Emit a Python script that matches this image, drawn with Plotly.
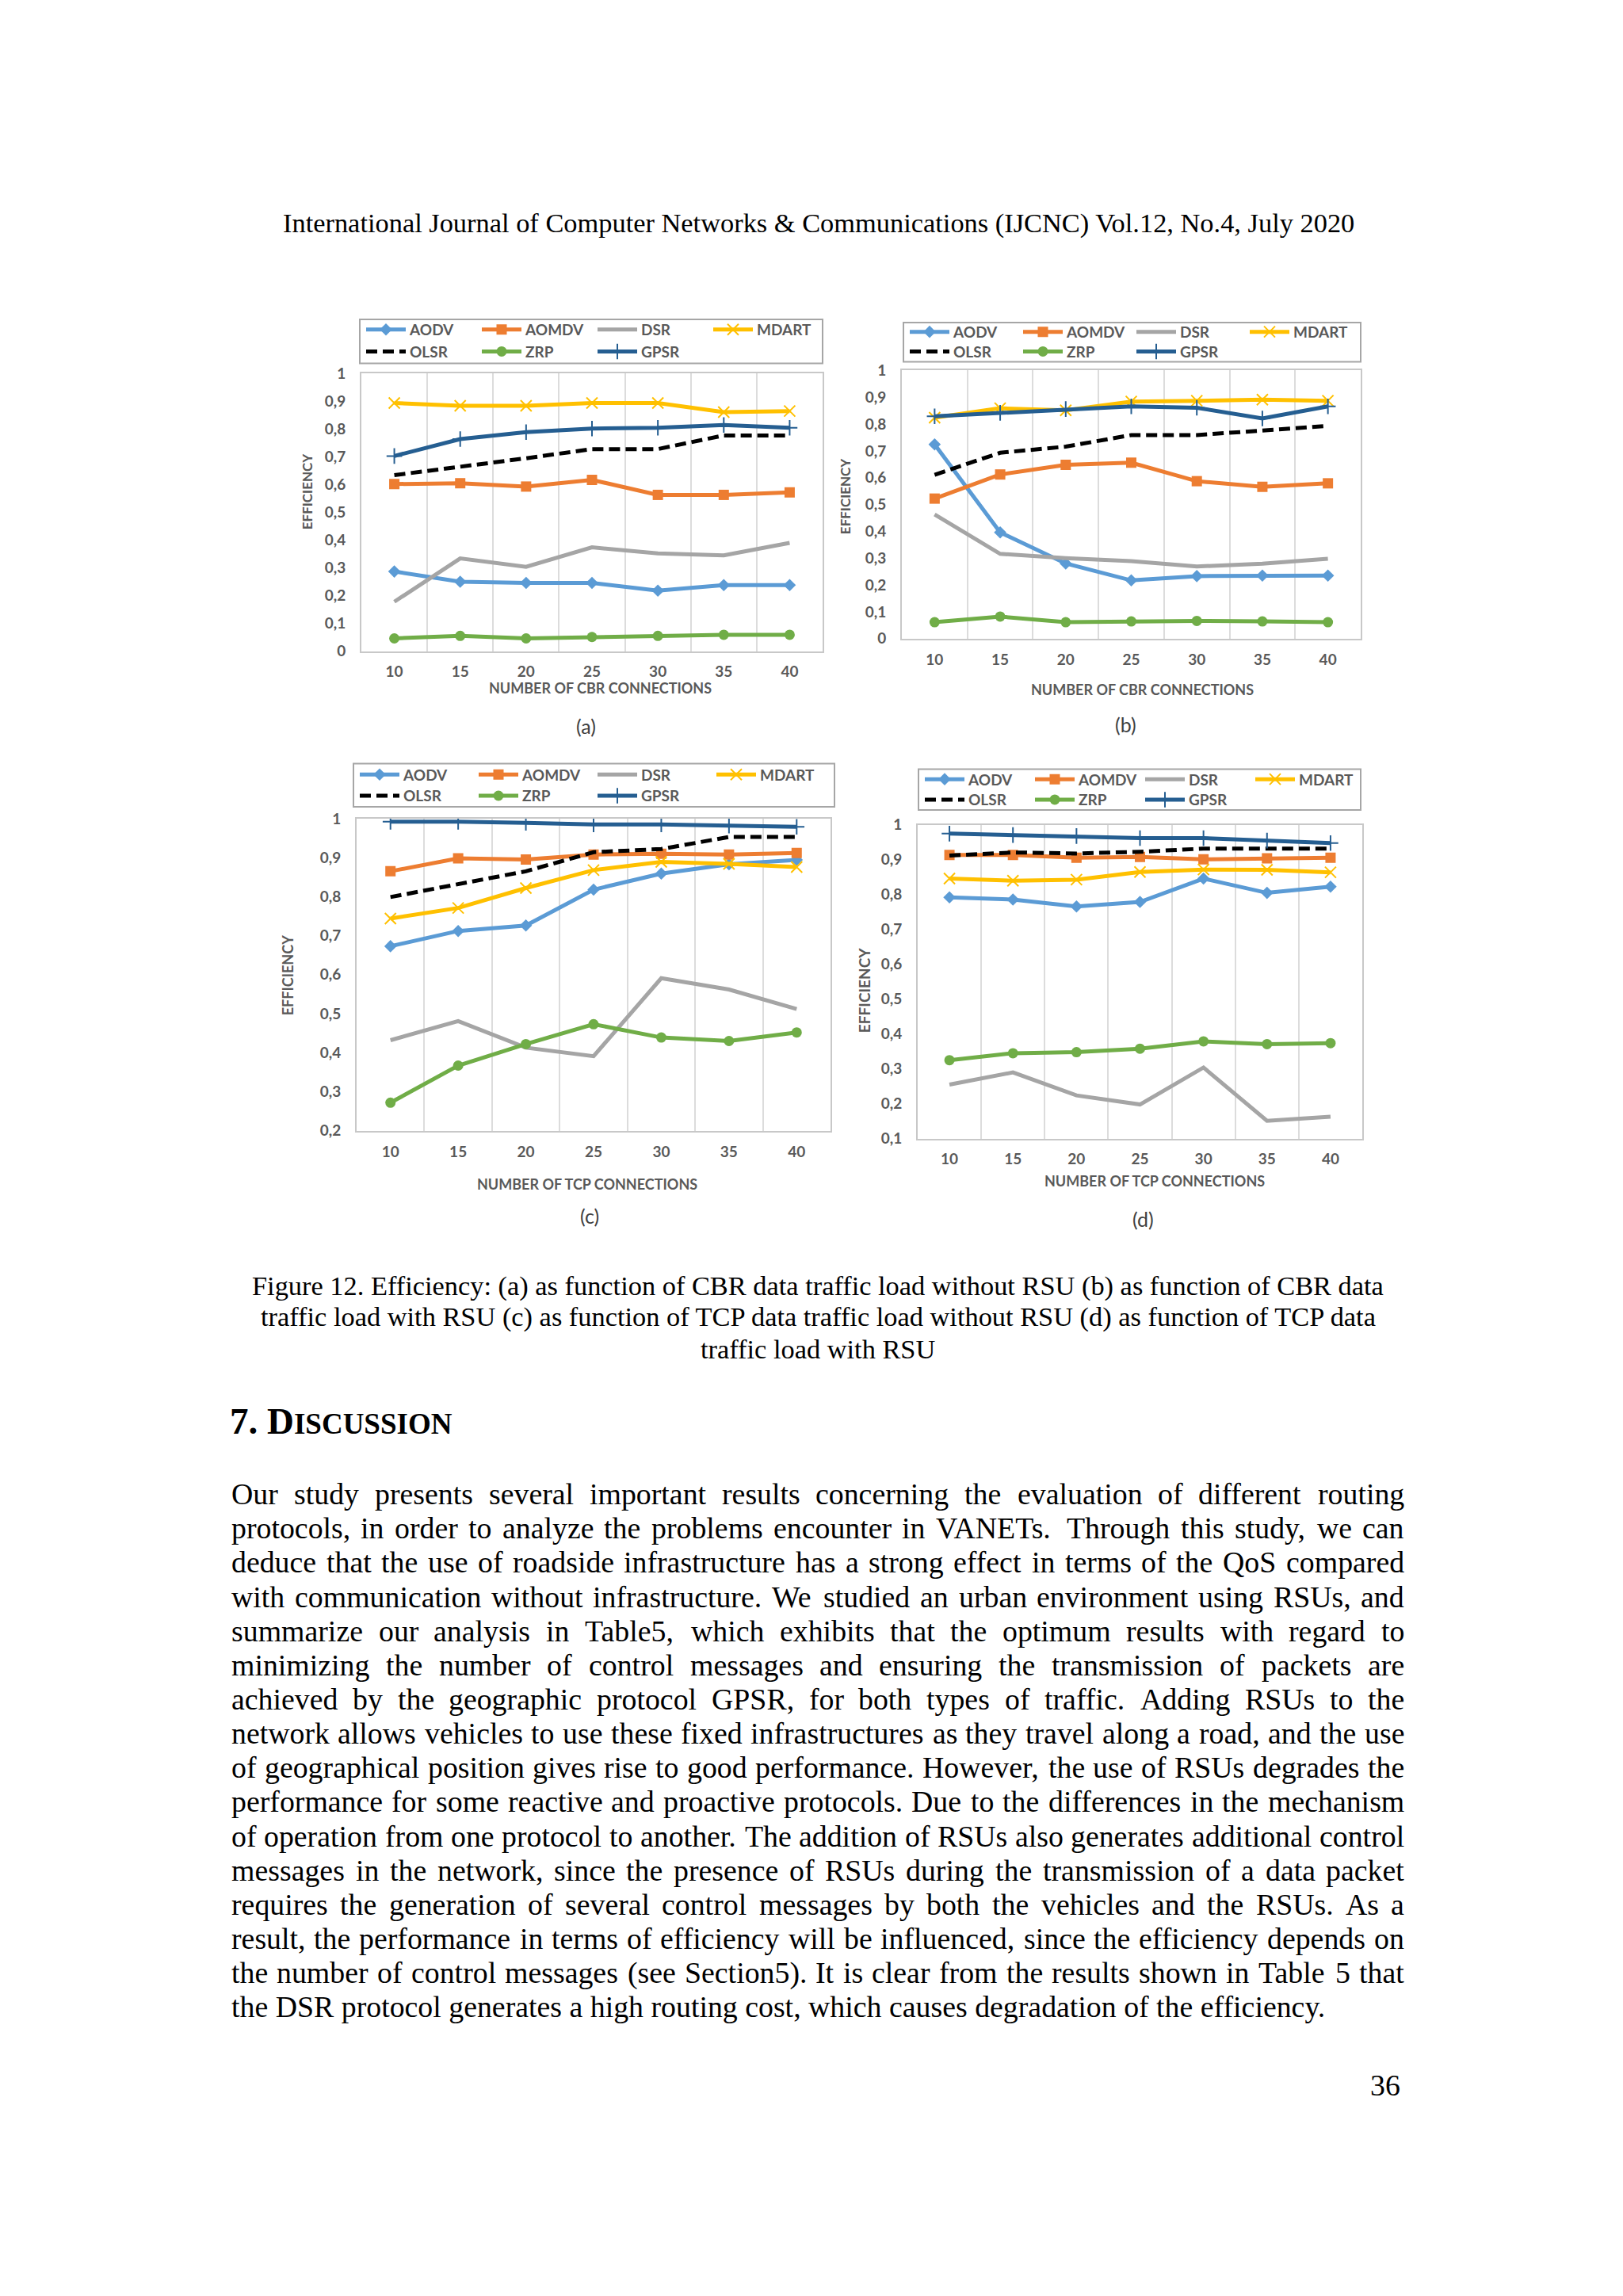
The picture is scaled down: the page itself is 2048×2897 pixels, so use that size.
import plotly.graph_objects as go

W, H = 2048, 2897

# ---------------- data ----------------
connections = [10, 15, 20, 25, 30, 35, 40]
protocols = ["AODV", "AOMDV", "DSR", "MDART", "OLSR", "ZRP", "GPSR"]

# (a) CBR, without RSU
cbr_no_rsu_aodv = [0.287, 0.250, 0.246, 0.246, 0.218, 0.238, 0.238]
cbr_no_rsu_aomdv = [0.602, 0.605, 0.593, 0.617, 0.563, 0.563, 0.572]
cbr_no_rsu_dsr = [0.178, 0.334, 0.304, 0.374, 0.352, 0.345, 0.390]
cbr_no_rsu_mdart = [0.894, 0.884, 0.884, 0.894, 0.894, 0.861, 0.865]
cbr_no_rsu_olsr = [0.634, 0.664, 0.695, 0.728, 0.728, 0.777, 0.777]
cbr_no_rsu_zrp = [0.046, 0.055, 0.046, 0.051, 0.055, 0.059, 0.059]
cbr_no_rsu_gpsr = [0.703, 0.764, 0.789, 0.802, 0.805, 0.815, 0.805]

# (b) CBR, with RSU
cbr_rsu_aodv = [0.724, 0.396, 0.280, 0.217, 0.233, 0.235, 0.235]
cbr_rsu_aomdv = [0.522, 0.612, 0.648, 0.656, 0.587, 0.566, 0.579]
cbr_rsu_dsr = [0.463, 0.316, 0.300, 0.289, 0.269, 0.279, 0.298]
cbr_rsu_mdart = [0.824, 0.859, 0.851, 0.884, 0.887, 0.891, 0.887]
cbr_rsu_olsr = [0.611, 0.693, 0.716, 0.759, 0.759, 0.777, 0.793]
cbr_rsu_zrp = [0.061, 0.082, 0.061, 0.064, 0.066, 0.064, 0.061]
cbr_rsu_gpsr = [0.829, 0.842, 0.856, 0.866, 0.861, 0.821, 0.866]

# (c) TCP, without RSU
tcp_no_rsu_aodv = [0.673, 0.712, 0.726, 0.818, 0.859, 0.883, 0.894]
tcp_no_rsu_aomdv = [0.865, 0.898, 0.895, 0.908, 0.910, 0.908, 0.912]
tcp_no_rsu_dsr = [0.432, 0.481, 0.413, 0.391, 0.591, 0.562, 0.512]
tcp_no_rsu_mdart = [0.744, 0.771, 0.822, 0.868, 0.889, 0.884, 0.876]
tcp_no_rsu_olsr = [0.799, 0.832, 0.865, 0.914, 0.922, 0.953, 0.953]
tcp_no_rsu_zrp = [0.272, 0.367, 0.422, 0.473, 0.439, 0.430, 0.452]
tcp_no_rsu_gpsr = [0.992, 0.992, 0.989, 0.985, 0.985, 0.982, 0.979]

# (d) TCP, with RSU
tcp_rsu_aodv = [0.792, 0.786, 0.766, 0.779, 0.846, 0.805, 0.823]
tcp_rsu_aomdv = [0.914, 0.914, 0.906, 0.908, 0.901, 0.904, 0.906]
tcp_rsu_dsr = [0.255, 0.290, 0.224, 0.198, 0.304, 0.151, 0.163]
tcp_rsu_mdart = [0.846, 0.840, 0.843, 0.865, 0.872, 0.871, 0.864]
tcp_rsu_olsr = [0.912, 0.921, 0.918, 0.923, 0.932, 0.932, 0.932]
tcp_rsu_zrp = [0.325, 0.345, 0.348, 0.358, 0.379, 0.371, 0.374]
tcp_rsu_gpsr = [0.975, 0.971, 0.968, 0.962, 0.962, 0.955, 0.948]

y_ticks_ab = [0, 0.1, 0.2, 0.3, 0.4, 0.5, 0.6, 0.7, 0.8, 0.9, 1]
y_ticks_c = [0.2, 0.3, 0.4, 0.5, 0.6, 0.7, 0.8, 0.9, 1]
y_ticks_d = [0.1, 0.2, 0.3, 0.4, 0.5, 0.6, 0.7, 0.8, 0.9, 1]

x_title_cbr = "NUMBER OF CBR CONNECTIONS"
x_title_tcp = "NUMBER OF TCP CONNECTIONS"
y_title = "EFFICIENCY"
panel_labels = ["(a)", "(b)", "(c)", "(d)"]

header_text = "International Journal of Computer Networks &amp; Communications (IJCNC) Vol.12, No.4, July 2020"
caption_lines = [
    "Figure 12. Efficiency: (a) as function of CBR data traffic load without RSU (b) as function of CBR data",
    "traffic load with RSU (c) as function of TCP data traffic load without RSU (d) as function of TCP data",
    "traffic load with RSU",
]
body_lines = [
    "Our study presents several important results concerning the evaluation of different routing",
    "protocols, in order to analyze the problems encounter in VANETs. Through this study, we can",
    "deduce that the use of roadside infrastructure has a strong effect in terms of the QoS compared",
    "with communication without infrastructure. We studied an urban environment using RSUs, and",
    "summarize our analysis in Table5, which exhibits that the optimum results with regard to",
    "minimizing the number of control messages and ensuring the transmission of packets are",
    "achieved by the geographic protocol GPSR, for both types of traffic. Adding RSUs to the",
    "network allows vehicles to use these fixed infrastructures as they travel along a road, and the use",
    "of geographical position gives rise to good performance. However, the use of RSUs degrades the",
    "performance for some reactive and proactive protocols. Due to the differences in the mechanism",
    "of operation from one protocol to another. The addition of RSUs also generates additional control",
    "messages in the network, since the presence of RSUs during the transmission of a data packet",
    "requires the generation of several control messages by both the vehicles and the RSUs. As a",
    "result, the performance in terms of efficiency will be influenced, since the efficiency depends on",
    "the number of control messages (see Section5). It is clear from the results shown in Table 5 that",
    "the DSR protocol generates a high routing cost, which causes degradation of the efficiency.",
]
page_number = "36"

# ---------------- styles ----------------
styles = {
    "AODV": dict(mode="lines+markers", line=dict(color="#5B9BD5", width=5),
                 marker=dict(symbol="diamond", size=12, color="#5B9BD5")),
    "AOMDV": dict(mode="lines+markers", line=dict(color="#ED7D31", width=5),
                  marker=dict(symbol="square", size=13, color="#ED7D31")),
    "DSR": dict(mode="lines", line=dict(color="#A5A5A5", width=5)),
    "MDART": dict(mode="lines+markers", line=dict(color="#FFC000", width=5),
                  marker=dict(symbol="x-thin", size=14, color="#FFC000",
                              line=dict(color="#FFC000", width=2))),
    "OLSR": dict(mode="lines", line=dict(color="#000000", width=5, dash="14px,7px")),
    "ZRP": dict(mode="lines+markers", line=dict(color="#70AD47", width=5),
                marker=dict(symbol="circle", size=13, color="#70AD47")),
    "GPSR": dict(mode="lines+markers", line=dict(color="#255E91", width=5),
                 marker=dict(symbol="cross-thin", size=14, color="#255E91",
                             line=dict(color="#255E91", width=2))),
}

GRAY = "#595959"
CHART_FONT = "Lato"
TICKFONT = dict(family=CHART_FONT, size=19, color=GRAY, weight="bold")

panels = [
    dict(series=[cbr_no_rsu_aodv, cbr_no_rsu_aomdv, cbr_no_rsu_dsr, cbr_no_rsu_mdart,
                 cbr_no_rsu_olsr, cbr_no_rsu_zrp, cbr_no_rsu_gpsr],
         yticks=y_ticks_ab, xtitle=x_title_cbr,
         plot=(448, 1030, 455, 808), legbox=(446, 1030, 386, 442), rows=(399, 427), colw=146,
         xt=(749, 855), yt=(379, 605), ysz=17, lab=(731, 903)),
    dict(series=[cbr_rsu_aodv, cbr_rsu_aomdv, cbr_rsu_dsr, cbr_rsu_mdart,
                 cbr_rsu_olsr, cbr_rsu_zrp, cbr_rsu_gpsr],
         yticks=y_ticks_ab, xtitle=x_title_cbr,
         plot=(1130, 1709, 451, 792), legbox=(1132, 1709, 390, 440), rows=(402, 427), colw=143,
         xt=(1433, 857), yt=(1058, 611), ysz=17, lab=(1412, 901)),
    dict(series=[tcp_no_rsu_aodv, tcp_no_rsu_aomdv, tcp_no_rsu_dsr, tcp_no_rsu_mdart,
                 tcp_no_rsu_olsr, tcp_no_rsu_zrp, tcp_no_rsu_gpsr],
         yticks=y_ticks_c, xtitle=x_title_tcp,
         plot=(442, 1040, 1021, 1418), legbox=(438, 1045, 951, 1006), rows=(965, 992), colw=150,
         xt=(733, 1486), yt=(355, 1221), ysz=18, lab=(736, 1526)),
    dict(series=[tcp_rsu_aodv, tcp_rsu_aomdv, tcp_rsu_dsr, tcp_rsu_mdart,
                 tcp_rsu_olsr, tcp_rsu_zrp, tcp_rsu_gpsr],
         yticks=y_ticks_d, xtitle=x_title_tcp,
         plot=(1150, 1711, 1029, 1428), legbox=(1151, 1709, 958, 1010), rows=(971, 997), colw=139,
         xt=(1449, 1482), yt=(1082, 1240), ysz=19, lab=(1434, 1530)),
]


def px_x(x):
    return x / W


def px_y(y):
    return 1 - y / H


def fmt_tick(v):
    if v == 0:
        return "0"
    if v == 1:
        return "1"
    return f"{v:.1f}".replace(".", ",")


def note(text, x, y, size, family, color="black", xanchor="center", angle=0, bold=False):
    return dict(text=text, x=px_x(x), y=px_y(y), xref="paper", yref="paper",
                xanchor=xanchor, yanchor="middle", showarrow=False, textangle=angle,
                borderpad=0,
                font=dict(family=family, size=size, color=color,
                          weight="bold" if bold else "normal"))


fig = go.Figure()
layout = dict(width=W, height=H, margin=dict(l=0, r=0, t=0, b=0), autosize=False,
              paper_bgcolor="white", plot_bgcolor="white", showlegend=True)
annotations = []
shapes = []
ITEMW = 50

for i, p in enumerate(panels):
    n = i + 1
    xa = "x" if n == 1 else f"x{n}"
    ya = "y" if n == 1 else f"y{n}"
    leg1 = "legend" if n == 1 else f"legend{2 * n - 1}"
    leg2 = f"legend{2 * n}"
    for k, (name, vals) in enumerate(zip(protocols, p["series"])):
        st = styles[name]
        fig.add_trace(go.Scatter(x=connections, y=vals, name=name, xaxis=xa, yaxis=ya,
                                 legend=leg1 if k < 4 else leg2, **st))
    l, r, t, b = p["plot"]
    yt = p["yticks"]
    grid_vals = [(connections[j] + connections[j + 1]) / 2 for j in range(len(connections) - 1)]
    layout["xaxis" if n == 1 else f"xaxis{n}"] = dict(
        domain=[px_x(l), px_x(r)], anchor=ya, range=[7.5, 42.5],
        tickmode="array", tickvals=connections, ticktext=[str(c) for c in connections],
        showgrid=False, zeroline=False, ticks="", showline=True, mirror=True,
        linecolor="#c8c8c8", linewidth=2, tickfont=TICKFONT, ticklabelstandoff=8,
        minor=dict(tickmode="array", tickvals=grid_vals, showgrid=True,
                   gridcolor="#dcdcdc", gridwidth=2, ticks=""),
        fixedrange=True)
    layout["yaxis" if n == 1 else f"yaxis{n}"] = dict(
        domain=[px_y(b), px_y(t)], anchor=xa, range=[yt[0], yt[-1]],
        tickmode="array", tickvals=yt, ticktext=[fmt_tick(v) for v in yt],
        showgrid=False, zeroline=False, ticks="", showline=True, mirror=True,
        linecolor="#c8c8c8", linewidth=2, tickfont=TICKFONT, ticklabelstandoff=14,
        fixedrange=True)
    # legends (two rows inside one box)
    bl, br, bt, bb = p["legbox"]
    ew = p["colw"] - 45 - (ITEMW - 30)
    for row, lname in zip(p["rows"], [leg1, leg2]):
        layout[lname] = dict(orientation="h", x=px_x(bl + 3), y=px_y(row), xanchor="left",
                             yanchor="middle", bgcolor="rgba(0,0,0,0)", borderwidth=0,
                             entrywidth=ew, entrywidthmode="pixels", itemwidth=ITEMW,
                             font=dict(family=CHART_FONT, size=19, color=GRAY, weight="bold"))
    shapes.append(dict(type="rect", xref="paper", yref="paper", x0=px_x(bl), x1=px_x(br),
                       y0=px_y(bb), y1=px_y(bt), line=dict(color="#a6a6a6", width=2),
                       fillcolor="rgba(0,0,0,0)", layer="below"))
    # titles
    annotations.append(note(p["xtitle"], p["xt"][0], p["xt"][1], 18, CHART_FONT, GRAY, bold=True))
    annotations.append(note(y_title, p["yt"][0], p["yt"][1], p["ysz"], CHART_FONT, GRAY,
                            angle=-90, bold=True))
    annotations.append(note(panel_labels[i], p["lab"][0], p["lab"][1], 25, CHART_FONT, "#404040"))

# ---------------- page text ----------------
TIMES_W = {' ': 250, '!': 333, '"': 408, '#': 500, '$': 500, '%': 833, '&': 778, "'": 333,
           '(': 333, ')': 333, '*': 500, '+': 564, ',': 250, '-': 333, '.': 250, '/': 278,
           ':': 278, ';': 278, '<': 564, '=': 564, '>': 564, '?': 444, '@': 921,
           'A': 722, 'B': 667, 'C': 667, 'D': 722, 'E': 611, 'F': 556, 'G': 722, 'H': 722,
           'I': 333, 'J': 389, 'K': 722, 'L': 611, 'M': 889, 'N': 722, 'O': 722, 'P': 556,
           'Q': 722, 'R': 667, 'S': 556, 'T': 611, 'U': 722, 'V': 722, 'W': 944, 'X': 722,
           'Y': 722, 'Z': 611, 'a': 444, 'b': 500, 'c': 444, 'd': 500, 'e': 444, 'f': 333,
           'g': 500, 'h': 500, 'i': 278, 'j': 278, 'k': 500, 'l': 278, 'm': 778, 'n': 500,
           'o': 500, 'p': 500, 'q': 500, 'r': 333, 's': 389, 't': 278, 'u': 500, 'v': 500,
           'w': 722, 'x': 500, 'y': 500, 'z': 444}
for d in "0123456789":
    TIMES_W[d] = 500


def em(s):
    s = s.replace("&amp;", "&")
    return sum(TIMES_W.get(c, 500) for c in s) / 1000.0


SERIF = "Liberation Serif"

# header
hdr_size = 1358 / em(header_text)
annotations.append(note(header_text, 1025, 264, hdr_size, SERIF))

# caption
cap_size = 1430 / em(caption_lines[0])
for j, line in enumerate(caption_lines):
    annotations.append(note(line, 1024, 1615 + j * 40, cap_size, SERIF))

# heading (small caps)
annotations.append(note('<b>7. D<span style="font-size:37px">ISCUSSION</span></b>',
                        281, 1787, 47, SERIF, xanchor="left"))

# justified body
left, right = 283, 1763
body_size = 1384 / em(body_lines[-1])
y0, dy = 1880, 43.5
for j, line in enumerate(body_lines):
    yy = y0 + j * dy
    if j == len(body_lines) - 1:
        annotations.append(note(line, left, yy, body_size, SERIF, xanchor="left"))
        continue
    words = line.split(" ")
    widths = [em(w) * body_size for w in words]
    gap = (right - left - sum(widths)) / (len(words) - 1)
    xpos = left
    for w, wd in zip(words, widths):
        annotations.append(note(w, xpos, yy, body_size, SERIF, xanchor="left"))
        xpos += wd + gap

# page number
annotations.append(note(page_number, 1760, 2632, body_size, SERIF, xanchor="right"))

layout["annotations"] = annotations
layout["shapes"] = shapes
fig.update_layout(**layout)
fig.write_html("out.html")
